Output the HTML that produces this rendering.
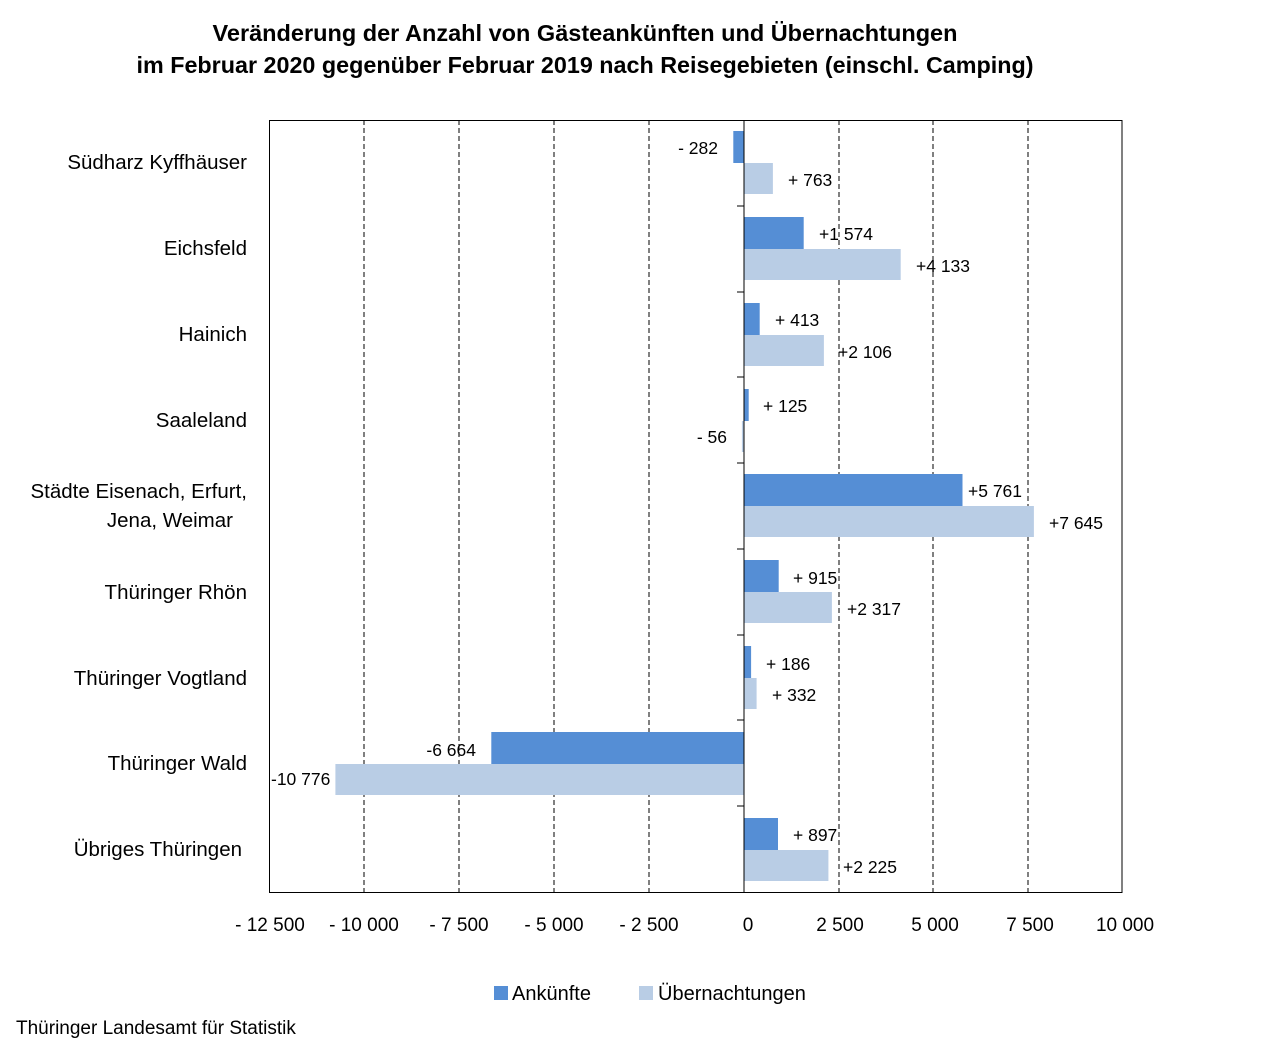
<!DOCTYPE html>
<html><head><meta charset="utf-8"><style>
body{margin:0;background:#fff;}
svg{display:block;font-family:"Liberation Sans",sans-serif;}
</style></head><body>
<svg width="1280" height="1050" viewBox="0 0 1280 1050" xmlns="http://www.w3.org/2000/svg">
<rect width="1280" height="1050" fill="#fff"/>
<g font-weight="bold" font-size="23" text-anchor="middle" fill="#000">
<text x="585" y="41" textLength="745" lengthAdjust="spacingAndGlyphs">Veränderung der Anzahl von Gästeankünften und Übernachtungen</text>
<text x="585" y="73" textLength="897" lengthAdjust="spacingAndGlyphs">im Februar 2020 gegenüber Februar 2019 nach Reisegebieten (einschl. Camping)</text>
</g>
<g stroke="#000" stroke-dasharray="5,3" stroke-width="1">
<line x1="364" y1="120" x2="364" y2="892"/><line x1="459" y1="120" x2="459" y2="892"/>
<line x1="554" y1="120" x2="554" y2="892"/><line x1="649" y1="120" x2="649" y2="892"/>
<line x1="839" y1="120" x2="839" y2="892"/><line x1="933" y1="120" x2="933" y2="892"/>
<line x1="1028" y1="120" x2="1028" y2="892"/>
</g>
<g fill="#558ED5">
<rect x="733.3" y="131" width="10.7" height="32"/>
<rect x="744" y="217" width="59.7" height="32"/>
<rect x="744" y="303" width="15.7" height="32"/>
<rect x="744" y="389" width="4.7" height="32"/>
<rect x="744" y="474" width="218.5" height="32"/>
<rect x="744" y="560" width="34.7" height="32"/>
<rect x="744" y="646" width="7.1" height="32"/>
<rect x="491.3" y="732" width="252.7" height="32"/>
<rect x="744" y="818" width="34" height="32"/>
</g>
<g fill="#B9CDE5">
<rect x="744" y="163" width="28.9" height="31"/>
<rect x="744" y="249" width="156.7" height="31"/>
<rect x="744" y="335" width="79.9" height="31"/>
<rect x="741.9" y="421" width="2.1" height="31"/>
<rect x="744" y="506" width="289.9" height="31"/>
<rect x="744" y="592" width="87.9" height="31"/>
<rect x="744" y="678" width="12.6" height="31"/>
<rect x="335.4" y="764" width="408.6" height="31"/>
<rect x="744" y="850" width="84.4" height="31"/>
</g>
<rect x="269.5" y="120.5" width="852.5" height="772" fill="none" stroke="#000" stroke-width="1"/>
<line x1="744" y1="120" x2="744" y2="892" stroke="#000"/>
<g stroke="#000">
<line x1="737" y1="206" x2="744" y2="206"/><line x1="737" y1="292" x2="744" y2="292"/>
<line x1="737" y1="377" x2="744" y2="377"/><line x1="737" y1="463" x2="744" y2="463"/>
<line x1="737" y1="549" x2="744" y2="549"/><line x1="737" y1="635" x2="744" y2="635"/>
<line x1="737" y1="720" x2="744" y2="720"/><line x1="737" y1="806" x2="744" y2="806"/>
</g>
<g font-size="17.5" fill="#000">
<text x="718" y="154" text-anchor="end">- 282</text>
<text x="788" y="186">+ 763</text>
<text x="819" y="240">+1 574</text>
<text x="916" y="272">+4 133</text>
<text x="775" y="326">+ 413</text>
<text x="838" y="358">+2 106</text>
<text x="763" y="412">+ 125</text>
<text x="727" y="443" text-anchor="end">- 56</text>
<text x="968" y="497">+5 761</text>
<text x="1049" y="529">+7 645</text>
<text x="793" y="584">+ 915</text>
<text x="847" y="615">+2 317</text>
<text x="766" y="670">+ 186</text>
<text x="772" y="701">+ 332</text>
<text x="476" y="756" text-anchor="end">-6 664</text>
<text x="271" y="785">-10 776</text>
<text x="793" y="841">+ 897</text>
<text x="843" y="873">+2 225</text>
</g>
<g font-size="20.5" fill="#000" text-anchor="end">
<text x="247" y="169">Südharz Kyffhäuser</text>
<text x="247" y="255">Eichsfeld</text>
<text x="247" y="341">Hainich</text>
<text x="247" y="427">Saaleland</text>
<text x="247" y="498">Städte Eisenach, Erfurt,</text>
<text x="233" y="527">Jena, Weimar</text>
<text x="247" y="599">Thüringer Rhön</text>
<text x="247" y="685">Thüringer Vogtland</text>
<text x="247" y="770">Thüringer Wald</text>
<text x="242" y="856">Übriges Thüringen</text>
</g>
<g font-size="19" fill="#000" text-anchor="middle">
<text x="270" y="931">- 12 500</text><text x="364" y="931">- 10 000</text>
<text x="459" y="931">- 7 500</text><text x="554" y="931">- 5 000</text>
<text x="649" y="931">- 2 500</text><text x="748" y="931">0</text>
<text x="840" y="931">2 500</text><text x="935" y="931">5 000</text>
<text x="1030" y="931">7 500</text><text x="1125" y="931">10 000</text>
</g>
<rect x="494" y="986" width="14" height="14" fill="#558ED5"/>
<text x="512" y="1000" font-size="20">Ankünfte</text>
<rect x="639" y="986" width="14" height="14" fill="#B9CDE5"/>
<text x="658" y="1000" font-size="20">Übernachtungen</text>
<text x="16" y="1034" font-size="19">Thüringer Landesamt für Statistik</text>
</svg>
</body></html>
